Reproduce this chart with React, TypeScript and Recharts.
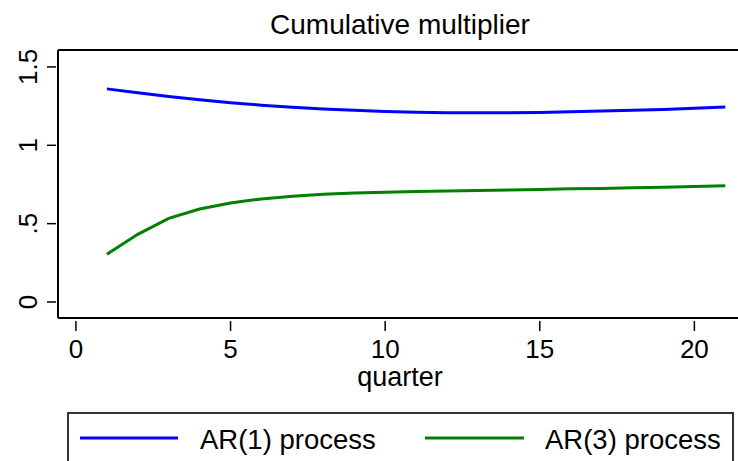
import React from "react";
import { LineChart, Line, XAxis, YAxis, ReferenceLine } from "recharts";

// Quarters after the shock
const quarters = [1, 2, 3, 4, 5, 6, 7, 8, 9, 10, 11, 12, 13, 14, 15, 16, 17, 18, 19, 20, 21];

// Cumulative multiplier, AR(1) fiscal process
const ar1 = [
  1.36, 1.335, 1.311, 1.29, 1.272, 1.256, 1.243, 1.232, 1.223, 1.216, 1.211,
  1.208, 1.207, 1.208, 1.21, 1.214, 1.218, 1.223, 1.229, 1.236, 1.244,
];

// Cumulative multiplier, AR(3) fiscal process
const ar3 = [
  0.305, 0.432, 0.534, 0.593, 0.632, 0.658, 0.675, 0.687, 0.695, 0.701, 0.705,
  0.709, 0.712, 0.715, 0.718, 0.722, 0.725, 0.729, 0.733, 0.737, 0.742,
];

const xTicks = [0, 5, 10, 15, 20];
const yTicks = [0, 0.5, 1, 1.5];
const yTickLabels = ["0", ".5", "1", "1.5"];

const seriesNames = ["AR(1) process", "AR(3) process"];
const seriesColors = ["#0000ff", "#008000"];

const data = quarters.map((q, i) => ({ q, ar1: ar1[i], ar3: ar3[i] }));

const FONT = '"Liberation Sans", Arial, Helvetica, sans-serif';
const X_DOMAIN: [number, number] = [-0.58, 21.54];
const Y_DOMAIN: [number, number] = [-0.102, 1.608];

const XTick = (props: any) => {
  const { x, y, payload } = props;
  return (
    <g>
      <line x1={x} x2={x} y1={y + 3} y2={y + 13} stroke="#000" strokeWidth={1.5} />
      <text x={x} y={y + 40} textAnchor="middle" fontSize={26} fontFamily={FONT} fill="#000">
        {payload.value}
      </text>
    </g>
  );
};

const YTick = (props: any) => {
  const { x, y, payload } = props;
  const idx = yTicks.indexOf(payload.value);
  const label = idx >= 0 ? yTickLabels[idx] : String(payload.value);
  const tx = x - 21;
  return (
    <g>
      <line x1={x - 11} x2={x - 2} y1={y} y2={y} stroke="#000" strokeWidth={1.5} />
      <text
        x={tx}
        y={y}
        textAnchor="middle"
        fontSize={26}
        fontFamily={FONT}
        fill="#000"
        transform={`rotate(-90, ${tx}, ${y})`}
      >
        {label}
      </text>
    </g>
  );
};

const QuarterLabel = (props: any) => {
  const vb = props.viewBox || { x: 58, y: 318, width: 684, height: 70 };
  return (
    <text
      x={vb.x + vb.width / 2}
      y={vb.y + 68}
      textAnchor="middle"
      fontSize={27}
      fontFamily={FONT}
      fill="#000"
    >
      quarter
    </text>
  );
};

export default function App() {
  return (
    <div
      style={{
        position: "absolute",
        left: 0,
        top: 0,
        width: 738,
        height: 461,
        overflow: "hidden",
        background: "#fff",
      }}
    >
      <LineChart
        width={752}
        height={461}
        data={data}
        margin={{ top: 50, right: 10, left: 0, bottom: 73 }}
      >
        <XAxis
          dataKey="q"
          type="number"
          domain={X_DOMAIN}
          ticks={xTicks}
          allowDataOverflow
          height={70}
          tickSize={0}
          tickMargin={0}
          tickLine={false}
          tick={<XTick />}
          axisLine={{ stroke: "#000", strokeWidth: 2 }}
          label={<QuarterLabel />}
        />
        <YAxis
          type="number"
          domain={Y_DOMAIN}
          ticks={yTicks}
          allowDataOverflow
          width={58}
          tickSize={0}
          tickMargin={0}
          tickLine={false}
          tick={<YTick />}
          axisLine={{ stroke: "#000", strokeWidth: 2 }}
        />
        <ReferenceLine y={Y_DOMAIN[1]} stroke="#000" strokeWidth={2} ifOverflow="extendDomain" />
        <Line
          type="linear"
          dataKey="ar1"
          stroke={seriesColors[0]}
          strokeWidth={3}
          dot={false}
          isAnimationActive={false}
        />
        <Line
          type="linear"
          dataKey="ar3"
          stroke={seriesColors[1]}
          strokeWidth={3}
          dot={false}
          isAnimationActive={false}
        />
      </LineChart>
      <svg
        width={738}
        height={461}
        style={{ position: "absolute", left: 0, top: 0, pointerEvents: "none" }}
      >
        <text x={400} y={34} textAnchor="middle" fontSize={28} fontFamily={FONT} fill="#000">
          Cumulative multiplier
        </text>
        <rect x={68} y={413} width={665} height={70} fill="none" stroke="#333" strokeWidth={2} />
        <line x1={80} x2={178} y1={438} y2={438} stroke={seriesColors[0]} strokeWidth={3} />
        <text x={200} y={449} fontSize={27.5} fontFamily={FONT} fill="#000">
          {seriesNames[0]}
        </text>
        <line x1={425} x2={524} y1={438} y2={438} stroke={seriesColors[1]} strokeWidth={3} />
        <text x={545} y={449} fontSize={27.5} fontFamily={FONT} fill="#000">
          {seriesNames[1]}
        </text>
      </svg>
    </div>
  );
}
